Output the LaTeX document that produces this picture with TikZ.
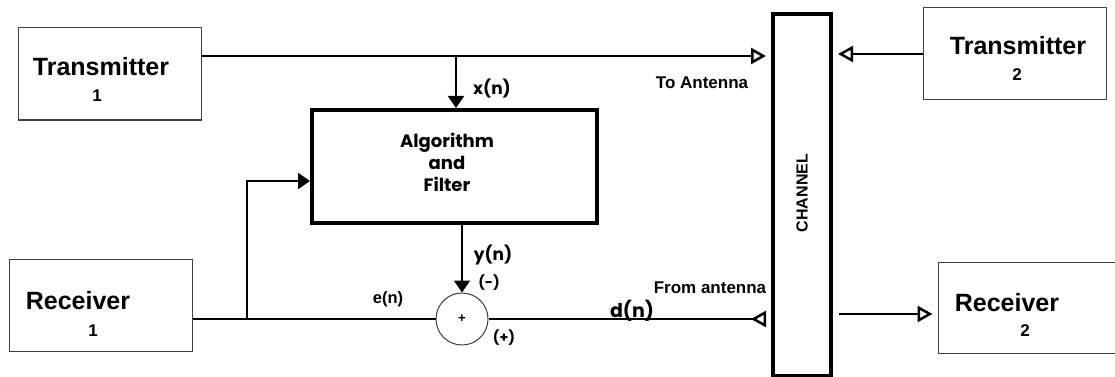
\documentclass[tikz,border=0pt]{standalone}
\usepackage{fontspec}
\setmainfont{Liberation Sans}
\newfontfamily\geofont{Poppins}
\usetikzlibrary{arrows.meta}
\tikzset{
  unit/.style={draw=black!75, line width=1pt, minimum width=183pt, minimum height=92pt, inner sep=0pt},
  thickbox/.style={draw, line width=4pt, inner sep=0pt},
  wire/.style={line width=2pt},
  feed/.style={wire, -{Triangle[length=12pt,width=16pt]}},
  tip/.style={wire, -{Triangle[open,length=15pt,width=16pt,line width=2.5pt]}},
  backtip/.style={wire, -{Triangle[open,reversed,length=15pt,width=16pt,line width=2.5pt]}},
  bigtext/.style={font=\bfseries\fontsize{25}{27}\selectfont, inner sep=0pt},
  numtext/.style={font=\bfseries\fontsize{17}{19}\selectfont, inner sep=0pt},
  sig/.style={font=\geofont\bfseries\fontsize{17}{19}\selectfont, inner sep=0pt},
  small/.style={font=\bfseries\fontsize{17}{19}\selectfont, inner sep=0pt},
}
\begin{document}
\begin{tikzpicture}[x=1pt,y=-1pt]
    \useasboundingbox (0,0) rectangle (1115,377);

    \node[unit] (tx1) at (109.5,74) {};
    \node[bigtext] (tx1name) at (101,67) {Transmitter};
    \node[numtext] (tx1num) at (97,96) {1};

    \node[unit] (rx1) at (101,305.5) {};
    \node[bigtext] (rx1name) at (78,301) {Receiver};
    \node[numtext] (rx1num) at (93,331) {1};

    \node[unit] (tx2) at (1015,54) {};
    \node[bigtext] (tx2name) at (1018,46) {Transmitter};
    \node[numtext] (tx2num) at (1017,75) {2};

    \node[unit, minimum width=181pt, minimum height=91pt] (rx2) at (1028.5,307.5) {};
    \node[bigtext] (rx2name) at (1007,303) {Receiver};
    \node[numtext] (rx2num) at (1025,331) {2};

    \node[thickbox, minimum width=285pt, minimum height=113pt] (alg) at (454.5,166.5) {};
    \node[sig, font=\geofont\bfseries\fontsize{18}{22}\selectfont, align=center] (algname) at (447,162) {Algorithm\\and\\Filter};

    \node[thickbox, minimum width=58pt, minimum height=362pt] (chan) at (802,195) {};
    \node[small, font=\bfseries\fontsize{16}{18}\selectfont, rotate=90] (channame) at (802,193) {CHANNEL};

    \node[draw=black!75, line width=1pt, circle, minimum size=52pt, inner sep=0pt] (sum) at (462,319) {};
    \node[font=\bfseries\fontsize{13}{15}\selectfont] (plus) at (sum) {+};

    \coordinate (toant) at (766,56);
    \coordinate (xtap) at (456,56);
    \coordinate (chin) at (838,54);
    \coordinate (chout) at (839,314);
    \coordinate (fromant) at (766,319);
    \coordinate (br) at (247,319);
    \coordinate (fb) at (247,181);

    \draw[tip] (tx1.east |- toant) -- (toant);
    \draw[feed] (xtap) -- (xtap |- alg.north);
    \draw[tip] (tx2.west) -- (chin);
    \draw[tip, shorten >=5pt] (chout) -- (rx2.west |- chout);
    \draw[wire] (rx1.east |- sum) -- (sum.west);
    \draw[feed] (br) -- (fb) -- (fb -| alg.west);
    \draw[feed] (sum.north |- alg.south) -- (sum.north);
    \draw[backtip] (sum.east) -- (fromant);

    \node[small] (toantlabel) at (702,83) {To Antenna};
    \node[small] (fromantlabel) at (710,288) {From antenna};
    \node[sig] (xlabel) at (492,89) {x(n)};
    \node[sig] (ylabel) at (493,255) {y(n)};
    \node[sig, font=\geofont\bfseries\fontsize{14}{16}\selectfont] (minus) at (489,283) {(-)};
    \node[sig, font=\geofont\bfseries\fontsize{14}{16}\selectfont] (plussign) at (504,338) {(+)};
    \node[small, font=\bfseries\fontsize{16.5}{18}\selectfont] (elabel) at (388,299) {e(n)};
    \node[sig, font=\geofont\bfseries\fontsize{19}{21}\selectfont] (dlabel) at (632,311) {d(n)};
\end{tikzpicture}
\end{document}
